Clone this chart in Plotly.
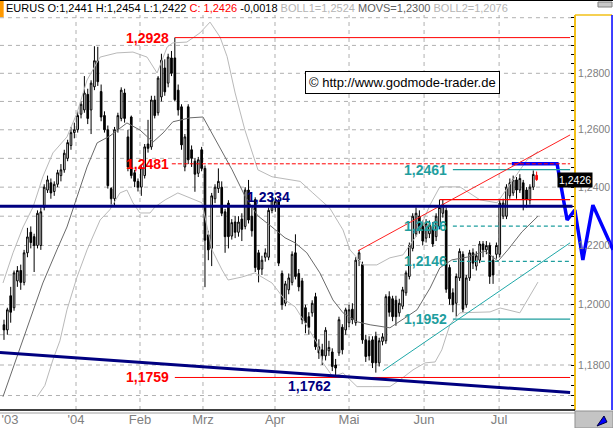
import math
import plotly.graph_objects as go

# ---------------- data (EUR/USD daily, Dec 2003 - Jul 2004) ----------------
open_ = [1.1933,1.1916,1.2030,1.1990,1.2080,1.2115,1.2075,1.2175,1.2245,1.2230,
         1.2200,1.2200,1.2330,1.2390,1.2415,1.2385,1.2410,1.2440,1.2460,1.2500,
         1.2545,1.2590,1.2600,1.2655,1.2670,1.2725,1.2670,1.2752,1.2845,1.2735,
         1.2650,1.2600,1.2395,1.2360,1.2600,1.2640,1.2730,1.2575,1.2645,1.2450,
         1.2420,1.2400,1.2440,1.2550,1.2540,1.2705,1.2660,1.2716,1.2819,1.2765,
         1.2855,1.2855,1.2740,1.2681,1.2470,1.2681,1.2530,1.2490,1.2448,1.2530,
         1.2465,1.2236,1.2190,1.2360,1.2395,1.2400,1.2315,1.2345,1.2232,1.2280,
         1.2245,1.2290,1.2265,1.2390,1.2300,1.2357,1.2175,1.2120,1.2160,1.2160,
         1.2320,1.2330,1.2350,1.2105,1.2005,1.2050,1.2075,1.2175,1.2105,1.2080,
         1.1990,1.1960,1.1973,1.2027,1.1860,1.1850,1.1830,1.1847,1.1843,1.1800,
         1.1840,1.1925,1.1916,1.1940,1.1985,1.1940,1.2150,1.2135,1.1883,1.1880,
         1.1883,1.1895,1.1807,1.1878,1.1880,1.2027,1.2020,1.2015,1.1973,1.1995,
         1.2040,1.2095,1.2190,1.2240,1.2300,1.2265,1.2225,1.2240,1.2265,1.2230,
         1.2265,1.2310,1.2320,1.2125,1.2040,1.2005,1.2090,1.2170,1.2000,1.2090,
         1.2175,1.2130,1.2150,1.2205,1.2185,1.2200,1.2150,1.2170,1.2170,1.2300,
         1.2300,1.2370,1.2380,1.2425,1.2390,1.2415,1.2390,1.2355,1.2400,1.2441]
high = [1.1950,1.1990,1.2060,1.2115,1.2130,1.2135,1.2185,1.2260,1.2265,1.2240,
        1.2320,1.2330,1.2410,1.2440,1.2430,1.2420,1.2460,1.2480,1.2530,1.2565,
        1.2610,1.2625,1.2665,1.2700,1.2790,1.2745,1.2775,1.2897,1.2895,1.2760,
        1.2665,1.2615,1.2400,1.2610,1.2660,1.2750,1.2745,1.2600,1.2650,1.2460,
        1.2430,1.2475,1.2550,1.2635,1.2720,1.2720,1.2790,1.2870,1.2850,1.2870,
        1.2880,1.2928,1.2760,1.2690,1.2585,1.2690,1.2545,1.2500,1.2505,1.2540,
        1.2475,1.2250,1.2380,1.2410,1.2465,1.2420,1.2325,1.2355,1.2290,1.2300,
        1.2300,1.2310,1.2400,1.2425,1.2330,1.2365,1.2185,1.2165,1.2190,1.2330,
        1.2380,1.2365,1.2360,1.2115,1.2080,1.2105,1.2180,1.2238,1.2120,1.2090,
        1.2000,1.1975,1.2015,1.2040,1.1885,1.1870,1.1925,1.1880,1.1855,1.1820,
        1.1960,1.1935,1.1990,1.2000,1.2005,1.2160,1.2185,1.2145,1.1900,1.1895,
        1.1895,1.1910,1.1890,1.1905,1.2035,1.2045,1.2030,1.2030,1.2020,1.2060,
        1.2115,1.2210,1.2310,1.2330,1.2320,1.2285,1.2290,1.2285,1.2280,1.2310,
        1.2357,1.2357,1.2330,1.2135,1.2055,1.2105,1.2190,1.2180,1.2100,1.2185,
        1.2190,1.2180,1.2215,1.2215,1.2215,1.2210,1.2165,1.2210,1.2355,1.2360,
        1.2410,1.2430,1.2440,1.2435,1.2445,1.2425,1.2400,1.2410,1.2458,1.2454]
low = [1.1883,1.1900,1.1940,1.1980,1.2060,1.2050,1.2065,1.2160,1.2190,1.2110,
       1.2190,1.2185,1.2320,1.2380,1.2360,1.2370,1.2400,1.2420,1.2450,1.2490,
       1.2530,1.2570,1.2590,1.2640,1.2660,1.2620,1.2585,1.2740,1.2755,1.2630,
       1.2590,1.2395,1.2340,1.2335,1.2590,1.2630,1.2625,1.2455,1.2430,1.2400,
       1.2385,1.2370,1.2430,1.2520,1.2530,1.2640,1.2650,1.2700,1.2720,1.2750,
       1.2790,1.2700,1.2650,1.2530,1.2455,1.2480,1.2470,1.2384,1.2435,1.2455,
       1.2059,1.2150,1.2130,1.2345,1.2380,1.2300,1.2175,1.2190,1.2220,1.2225,
       1.2230,1.2215,1.2255,1.2275,1.2230,1.2110,1.2075,1.2100,1.2145,1.2150,
       1.2310,1.2315,1.2130,1.1983,1.1995,1.2035,1.2065,1.2085,1.2045,1.1935,
       1.1905,1.1900,1.1960,1.1850,1.1820,1.1800,1.1815,1.1830,1.1780,1.1762,
       1.1830,1.1835,1.1900,1.1925,1.1935,1.1930,1.2130,1.1870,1.1810,1.1815,
       1.1790,1.1775,1.1795,1.1865,1.1870,1.1960,1.1945,1.1930,1.1960,1.1985,
       1.2030,1.2085,1.2180,1.2230,1.2240,1.2200,1.2210,1.2225,1.2195,1.2215,
       1.2255,1.2295,1.2040,1.2000,1.1975,1.1960,1.2080,1.1975,1.1990,1.2080,
       1.2120,1.2115,1.2140,1.2160,1.2170,1.2070,1.2070,1.2155,1.2160,1.2290,
       1.2290,1.2360,1.2370,1.2360,1.2380,1.2320,1.2330,1.2340,1.2390,1.2422]
close = [1.1916,1.1983,1.1975,1.2107,1.2115,1.2075,1.2175,1.2229,1.2210,1.2200,
         1.2310,1.2315,1.2400,1.2425,1.2380,1.2410,1.2450,1.2460,1.2518,1.2555,
         1.2590,1.2600,1.2650,1.2690,1.2730,1.2640,1.2765,1.2845,1.2770,1.2645,
         1.2600,1.2405,1.2360,1.2600,1.2650,1.2740,1.2640,1.2470,1.2440,1.2420,
         1.2400,1.2467,1.2540,1.2535,1.2705,1.2650,1.2783,1.2847,1.2734,1.2858,
         1.2800,1.2706,1.2670,1.2547,1.2575,1.2495,1.2500,1.2445,1.2495,1.2465,
         1.2218,1.2185,1.2370,1.2400,1.2420,1.2310,1.2230,1.2230,1.2278,1.2245,
         1.2280,1.2255,1.2390,1.2287,1.2250,1.2125,1.2118,1.2150,1.2175,1.2320,
         1.2355,1.2350,1.2140,1.2000,1.2070,1.2090,1.2170,1.2095,1.2060,1.1950,
         1.1940,1.1925,1.2005,1.1860,1.1840,1.1830,1.1915,1.1858,1.1795,1.1790,
         1.1950,1.1850,1.1983,1.1983,1.1950,1.2150,1.2175,1.1883,1.1828,1.1830,
         1.1807,1.1807,1.1880,1.1893,1.2027,1.1975,1.1960,1.1960,1.2005,1.2050,
         1.2107,1.2200,1.2300,1.2310,1.2250,1.2215,1.2275,1.2270,1.2205,1.2300,
         1.2330,1.2340,1.2052,1.2020,1.2000,1.2095,1.2180,1.1985,1.2090,1.2175,
         1.2140,1.2165,1.2205,1.2185,1.2200,1.2095,1.2100,1.2200,1.2345,1.2345,
         1.2400,1.2415,1.2425,1.2390,1.2430,1.2357,1.2357,1.2400,1.2444,1.2426]
bar = list(range(len(close)))

# Moving average and Bollinger bands, x in bar units
ma_x = [-0.3,3.9,8.7,11.6,15.8,18.8,21.8,24.8,27.8,31.6,36.7,40.6,44.5,47.5,50.4,55.5,
        59.4,63.6,68.1,71.9,75.8,80.0,83.9,86.9,90.4,94.3,98.2,101.2,105.4,109.3,115.2,
        119.7,123.3,127.2,130.1,133.7,138.5,143.6,147.5,150.4,154.6,159.4]
ma_y = [1.1696,1.1827,1.1983,1.2073,1.2185,1.2263,1.2366,1.2470,1.2554,1.2578,1.2624,
        1.2599,1.2557,1.2589,1.2628,1.2642,1.2645,1.2554,1.2460,1.2370,1.2301,1.2263,
        1.2226,1.2209,1.2175,1.2107,1.2016,1.1973,1.1943,1.1933,1.1923,1.1956,1.1983,
        1.2056,1.2124,1.2151,1.2161,1.2181,1.2147,1.2185,1.2246,1.2300]
up_x = [-0.3,2.7,5.7,8.7,11.6,14.6,18.8,21.8,24.8,28.7,33.7,38.5,42.7,45.7,48.7,50.4,
        54.6,58.5,61.5,64.5,66.6,69.0,71.9,75.8,80.0,85.4,88.4,92.2,97.3,101.2,103.3,
        105.4,107.2,111.3,115.2,119.1,123.3,127.2,130.1,136.1,142.1,147.2,151.9,156.1,159.4]
up_y = [1.2073,1.2175,1.2263,1.2332,1.2436,1.2519,1.2575,1.2659,1.2776,1.2858,1.2873,
        1.2876,1.2858,1.2801,1.2894,1.2909,1.2912,1.2945,1.2984,1.2930,1.2860,1.2730,
        1.2600,1.2460,1.2436,1.2425,1.2420,1.2380,1.2327,1.2253,1.2185,1.2158,1.2134,
        1.2134,1.2158,1.2168,1.2236,1.2339,1.2401,1.2401,1.2356,1.2346,1.2425,1.2494,1.2524]
lo_x = [9.9,12.2,14.6,16.7,18.8,21.8,24.8,28.7,31.6,34.6,36.7,38.5,40.6,43.6,45.1,48.1,
        51.9,54.9,59.1,62.1,65.1,66.9,71.0,74.9,80.0,83.9,86.9,89.3,93.4,95.2,98.2,101.2,
        105.4,110.1,115.2,118.2,122.1,125.7,128.7,130.7,133.1,136.1,145.1,148.1,154.0,159.4]
lo_y = [1.1696,1.1733,1.1817,1.1880,1.1983,1.2093,1.2185,1.2287,1.2322,1.2380,1.2390,
        1.2346,1.2311,1.2311,1.2332,1.2356,1.2380,1.2366,1.2346,1.2185,1.2117,1.2083,
        1.2093,1.2107,1.2073,1.2016,1.1993,1.1950,1.1873,1.1807,1.1761,1.1774,1.1729,
        1.1729,1.1729,1.1751,1.1784,1.1807,1.1810,1.1850,1.1933,1.1973,1.1976,1.1989,
        1.1973,1.2076]

# Drawn levels and lines
res_red = [1.2928, 1.1759]
res_red_dash = [1.2481]
navy_level = 1.2334
red_short_level = 1.2357
fib_solid = [1.2461, 1.1952]
fib_dash = [1.2266, 1.2146]
navy_low_label = 1.1762
trend_navy_x, trend_navy_y = [-1.2, 169.0], [1.1841, 1.1710]
chan_red_x, chan_red_y = [105.7, 169.0], [1.2182, 1.2582]
chan_teal_x, chan_teal_y = [113.1, 169.0], [1.1781, 1.2209]
proj_x = [151.6, 165.1, 168.1, 170.4, 172.8, 175.8, 181.8]
proj_y = [1.2481, 1.2481, 1.2287, 1.2321, 1.2151, 1.2338, 1.2185]

tick_pos = [1.8, 21.5, 40.6, 59.4, 80.9, 103.0, 125.4, 147.8]
tick_lab = ["'03", "'04", "Feb", "Mrz", "Apr", "Mai", "Jun", "Jul"]
price_ticks = [1.18, 1.20, 1.22, 1.24, 1.26, 1.28]
grid_vals = [1.17 + 0.01 * k for k in range(14)]

# ---------------- figure ----------------
FONT = "Liberation Sans, Arial, sans-serif"
X_END = 170.4          # right edge of price pane (bar units)
H_PX, TOP, BOT = 428, 15, 18
PLOT_H = H_PX - TOP - BOT


def py(px):            # paper y from a pixel row (for frame decorations only)
    return (H_PX - BOT - px) / PLOT_H


def fmt(v):
    return f"{v:.4f}".replace(".", ",")


fig = go.Figure()
fig.add_trace(go.Scatter(x=up_x, y=up_y, mode="lines", line=dict(color="#b9b9b9", width=1),
                         hoverinfo="skip", showlegend=False))
fig.add_trace(go.Scatter(x=lo_x, y=lo_y, mode="lines", line=dict(color="#b9b9b9", width=1),
                         hoverinfo="skip", showlegend=False))
fig.add_trace(go.Scatter(x=ma_x, y=ma_y, mode="lines", line=dict(color="#6a6a6a", width=1),
                         hoverinfo="skip", showlegend=False))
n = len(close) - 1
fig.add_trace(go.Candlestick(
    x=bar[:n], open=open_[:n], high=high[:n], low=low[:n], close=close[:n],
    increasing=dict(fillcolor="white", line=dict(color="black", width=1)),
    decreasing=dict(fillcolor="black", line=dict(color="black", width=1)),
    whiskerwidth=0, showlegend=False, hoverinfo="skip"))
fig.add_trace(go.Candlestick(
    x=bar[n:], open=open_[n:], high=high[n:], low=low[n:], close=close[n:],
    increasing=dict(fillcolor="red", line=dict(color="red", width=1)),
    decreasing=dict(fillcolor="red", line=dict(color="red", width=1)),
    whiskerwidth=0, showlegend=False, hoverinfo="skip"))

shapes = []
# grid
for g in grid_vals:
    shapes.append(dict(type="line", xref="x", yref="y", x0=-1.2, x1=X_END, y0=g, y1=g,
                       line=dict(color="#b0b0b0", width=1, dash="4px,4px"), layer="below"))
for t in tick_pos[1:]:
    shapes.append(dict(type="line", xref="x", yref="paper", x0=t, x1=t, y0=0, y1=1,
                       line=dict(color="#b0b0b0", width=1, dash="4px,4px"), layer="below"))
# levels
for v in res_red:
    shapes.append(dict(type="line", xref="x", yref="y", x0=51.0, x1=169.0, y0=v, y1=v,
                       line=dict(color="#ff0000", width=1)))
for v in res_red_dash:
    shapes.append(dict(type="line", xref="x", yref="y", x0=50.1, x1=169.0, y0=v, y1=v,
                       line=dict(color="#ff0000", width=1, dash="4px,2px")))
shapes.append(dict(type="line", xref="x", yref="y", x0=130.1, x1=169.0,
                   y0=red_short_level, y1=red_short_level, line=dict(color="#ff0000", width=1.2)))
for v in fib_solid:
    shapes.append(dict(type="line", xref="x", yref="y", x0=134.0, x1=169.0, y0=v, y1=v,
                       line=dict(color="#1f9e9e", width=1.2)))
for v in fib_dash:
    shapes.append(dict(type="line", xref="x", yref="y", x0=134.0, x1=169.0, y0=v, y1=v,
                       line=dict(color="#1f9e9e", width=1.2, dash="4px,3px")))
shapes.append(dict(type="line", xref="x", yref="y", x0=chan_red_x[0], x1=chan_red_x[1],
                   y0=chan_red_y[0], y1=chan_red_y[1], line=dict(color="#ff2020", width=1)))
shapes.append(dict(type="line", xref="x", yref="y", x0=chan_teal_x[0], x1=chan_teal_x[1],
                   y0=chan_teal_y[0], y1=chan_teal_y[1], line=dict(color="#1fa8a8", width=1)))
shapes.append(dict(type="line", xref="x", yref="y", x0=-1.2, x1=169.7, y0=navy_level,
                   y1=navy_level, line=dict(color="#000080", width=3)))
shapes.append(dict(type="line", xref="x", yref="y", x0=trend_navy_x[0], x1=trend_navy_x[1],
                   y0=trend_navy_y[0], y1=trend_navy_y[1], line=dict(color="#000080", width=3)))
# frame decorations
shapes += [
    dict(type="line", xref="paper", yref="paper", x0=0, x1=0.938, y0=0, y1=0,
         line=dict(color="black", width=1.5)),
    dict(type="line", xref="paper", yref="paper", x0=0, x1=0.938, y0=py(413), y1=py(413),
         line=dict(color="#a0a0a0", width=1)),
    dict(type="line", xref="paper", yref="paper", x0=0, x1=1, y0=py(0.5), y1=py(0.5),
         line=dict(color="black", width=1)),
    dict(type="line", xref="paper", yref="paper", x0=0.938, x1=0.9984, y0=1, y1=1,
         line=dict(color="#f2c019", width=1.5)),
    dict(type="line", xref="paper", yref="paper", x0=0.9984, x1=0.9984, y0=0, y1=1,
         line=dict(color="#0000ff", width=1.5)),
    dict(type="rect", xref="paper", yref="paper", x0=0, x1=0.006, y0=py(17), y1=py(1),
         fillcolor="#ff9900", line=dict(width=0)),
    dict(type="rect", xref="paper", yref="paper", x0=0.9755, x1=0.9984, y0=py(7), y1=py(2),
         fillcolor="#c8c8c8", line=dict(color="#808080", width=1)),
    dict(type="rect", xref="paper", yref="paper", x0=0.938, x1=1.0, y0=py(428), y1=py(411),
         fillcolor="#c4c4c4", line=dict(color="#909090", width=1)),
    dict(type="path", xref="paper", yref="paper",
         path=f"M 0.9739 {py(426)} L 0.9853 {py(416)} L 0.9902 {py(422)} Z",
         fillcolor="#0000ff", line=dict(color="#000040", width=1)),
]

annotations = []
lab_font = dict(family=FONT, size=14)
for v in res_red + res_red_dash:
    annotations.append(dict(x=49.9, y=math.log10(v), xref="x", yref="y", text=f"<b>{fmt(v)}</b>",
                            showarrow=False, xanchor="right", yanchor="middle",
                            font=dict(lab_font, color="#ff0000")))
for v in fib_solid + fib_dash:
    annotations.append(dict(x=132.8, y=math.log10(v), xref="x", yref="y", text=f"<b>{fmt(v)}</b>",
                            showarrow=False, xanchor="right", yanchor="middle",
                            font=dict(lab_font, color="#1f9e9e")))
annotations.append(dict(x=79.1, y=math.log10(navy_level), xref="x", yref="y", yshift=9,
                        text=f"<b>{fmt(navy_level)}</b>", showarrow=False,
                        font=dict(lab_font, color="#000080")))
annotations.append(dict(x=91.3, y=math.log10(navy_low_label), xref="x", yref="y", yshift=-9,
                        text=f"<b>{fmt(navy_low_label)}</b>", showarrow=False,
                        font=dict(lab_font, color="#000080")))
# last price tag
annotations.append(dict(x=0.9674, xref="paper", y=math.log10(close[-1]), yref="y",
                        text=fmt(close[-1]), showarrow=False, bgcolor="black",
                        font=dict(family=FONT, size=10.5, color="white"), borderpad=1))
# header
chg = close[-1] - close[-2]
header = (f"EURUS O:{fmt(open_[-1])} H:{fmt(high[-1])} L:{fmt(low[-1])} "
          f"<span style='color:#ff0000'>C: {fmt(close[-1])}</span> {fmt(chg)} "
          f"<span style='color:#b4b4b4'>BOLL1={fmt(up_y[-1])}</span> "
          f"<span style='color:#606060'>MOVS={fmt(ma_y[-1])}</span> "
          f"<span style='color:#b4b4b4'>BOLL2={fmt(lo_y[-1])}</span>")
annotations.append(dict(x=0, xref="paper", xshift=4, y=py(8.5), yref="paper", text=header,
                        showarrow=False, xanchor="left", yanchor="middle",
                        font=dict(family=FONT, size=11, color="black")))
annotations.append(dict(x=0.6574, xref="paper", y=py(71), yref="paper",
                        text="© http://www.godmode-trader.de", showarrow=False,
                        bgcolor="white", bordercolor="black", borderwidth=1, borderpad=3,
                        font=dict(family=FONT, size=13, color="black")))

fig.add_trace(go.Scatter(x=proj_x, y=proj_y, mode="lines",
                         line=dict(color="#0000ff", width=3.5), hoverinfo="skip",
                         showlegend=False))

minor_vals = [round(1.16 + k / 300, 6) for k in range(45)]
fig.update_layout(
    template="none", width=613, height=H_PX, autosize=False,
    margin=dict(l=0, r=0, t=TOP, b=BOT, pad=0),
    paper_bgcolor="white", plot_bgcolor="white", showlegend=False,
    shapes=shapes, annotations=annotations,
    xaxis=dict(domain=[0, 1], range=[-1.19, 181.8], showgrid=False, zeroline=False,
               showline=False, tickmode="array", tickvals=tick_pos, ticktext=tick_lab,
               ticks="", tickfont=dict(family=FONT, size=13, color="#808080"),
               rangeslider=dict(visible=False), automargin=False, fixedrange=True),
    yaxis=dict(type="log", range=[0.066432, 0.114271], side="right", anchor="free",
               position=0.938, showgrid=False, zeroline=False, showline=True,
               linecolor="#f2c019", linewidth=2, ticks="inside", ticklen=3,
               tickcolor="black", tickwidth=1, tickmode="array", tickvals=price_ticks,
               ticktext=[fmt(v) for v in price_ticks],
               tickfont=dict(family=FONT, size=10.5, color="#808080"),
               minor=dict(tickmode="array", tickvals=minor_vals, ticks="inside",
                          ticklen=3, tickcolor="black", showgrid=False),
               automargin=False, fixedrange=True),
)

fig.write_html("out.html", config={"displayModeBar": False},
               post_script="document.body.style.margin='0px';"
                           "document.body.style.overflow='hidden';")
